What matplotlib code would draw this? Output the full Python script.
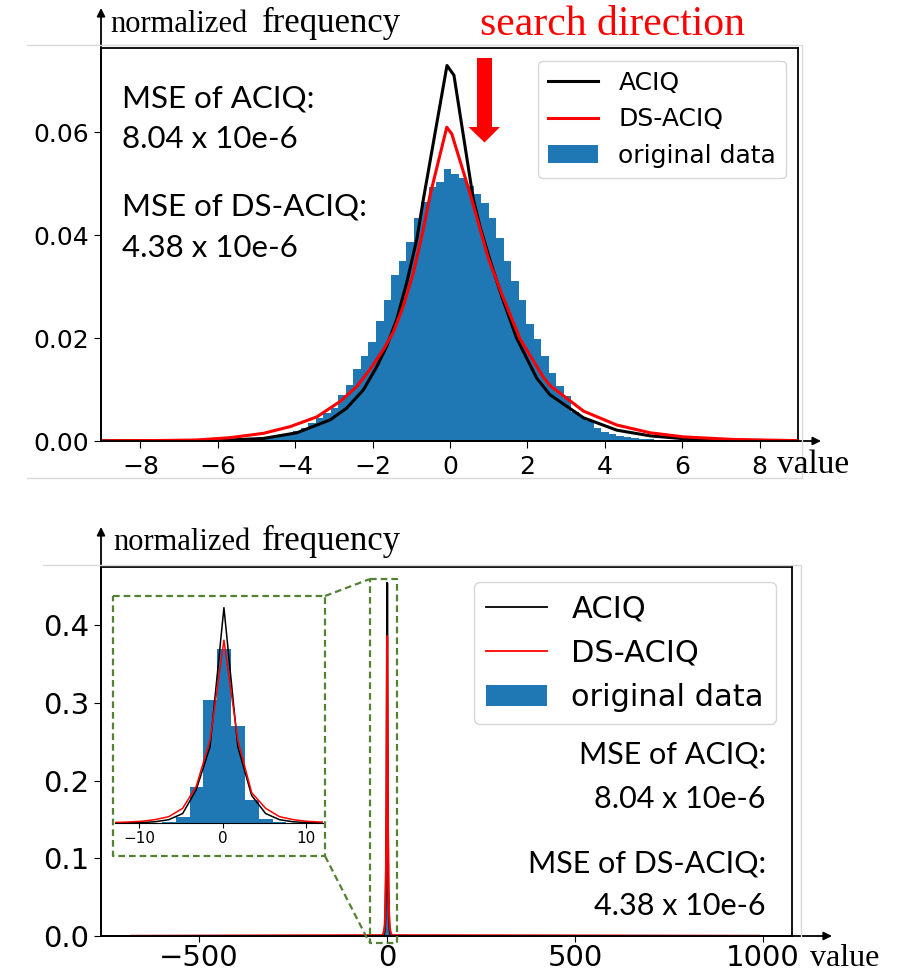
import numpy as np
import matplotlib
matplotlib.use('Agg')
import matplotlib.pyplot as plt
from matplotlib.lines import Line2D
from matplotlib.patches import Polygon, FancyArrowPatch

W, H = 898, 972

# ---- top panel: histogram (bin heights, left to right) ----
top_first_edge = -7.928
top_bin_w = 0.194
top_hist = [0.00001, 0.00002, 0.00002, 0.00003, 0.00003, 0.00004, 0.00005, 0.00006,
            0.00008, 0.0001, 0.00012, 0.00015, 0.0002, 0.00025, 0.0003, 0.0004,
            0.0005, 0.0007, 0.001, 0.0015, 0.002, 0.0026, 0.0035, 0.0044,
            0.0054, 0.0064, 0.009, 0.0109, 0.0139, 0.0165, 0.0192, 0.0233,
            0.0274, 0.0322, 0.035, 0.0387, 0.0433, 0.0465, 0.0493, 0.0503,
            0.0528,
            0.052, 0.0512, 0.0495, 0.048, 0.0463, 0.0433, 0.0394, 0.035, 0.0312, 0.0275,
            0.0228, 0.0198, 0.0166, 0.0133, 0.0107, 0.0088, 0.0057, 0.0047, 0.0038, 0.0025,
            0.0018, 0.0014, 0.001, 0.0007, 0.0005, 0.0004, 0.0003, 0.00025, 0.0002, 0.00015,
            0.00012, 0.0001, 0.00008, 0.00006, 0.00005, 0.00004, 0.00003, 0.00002, 0.00002, 0.00001]

# top panel fitted curves
top_aciq_x = [-9.0, -7.5, -6.03, -4.82, -3.96, -3.10, -2.67, -2.24, -1.89, -1.64, -1.38,
              -1.12, -0.86, -0.69, -0.08, 0.10, 0.60, 0.78, 1.03, 1.34, 1.72, 2.24,
              2.58, 3.45, 4.31, 5.17, 6.03, 7.32, 9.0]
top_aciq_y = [0.00003, 0.00005, 0.0001, 0.0005, 0.0016, 0.0041, 0.0064, 0.00995, 0.0145,
              0.0184, 0.0236, 0.0308, 0.0392, 0.047, 0.073, 0.0711, 0.047, 0.0415, 0.0352,
              0.0280, 0.0200, 0.0122, 0.0090, 0.0045, 0.0021, 0.0010, 0.00045, 0.00015, 0.00003]
top_ds_x = [-9.0, -7.5, -6.55, -5.68, -4.82, -4.13, -3.44, -2.84, -2.41, -2.07, -1.72,
            -1.46, -1.21, -0.95, -0.69, -0.52, -0.085, 0.044, 0.52, 0.99, 1.34,
            1.81, 2.41, 2.58, 3.45, 4.31, 5.17, 6.03, 7.32, 9.0]
top_ds_y = [0.00004, 0.0001, 0.0002, 0.00065, 0.0015, 0.0028, 0.0047, 0.0077, 0.0106,
            0.0139, 0.0178, 0.0213, 0.0262, 0.0327, 0.0412, 0.0477, 0.061, 0.0597, 0.048,
            0.0355, 0.0285, 0.0198, 0.0124, 0.0108, 0.0058, 0.0031, 0.0016, 0.0008,
            0.0003, 0.00007]

# ---- bottom panel ----
bot_first_edge = -8.94
bot_bin_w = 1.656
bot_hist = [0.001, 0.003, 0.0127, 0.076, 0.26, 0.367, 0.205, 0.0486, 0.008, 0.002, 0.0008]

bot_x = [-680, -13.1, -11.45, -9.8, -8.13, -6.46, -4.8, -3.18, -1.52, 0.14, 1.8, 3.46,
         5.13, 6.79, 8.45, 10.1, 11.77, 13.4, 990]
bot_aciq = [0.00005, 0.0002, 0.0004, 0.001, 0.0025, 0.007, 0.020, 0.07, 0.161, 0.4546,
            0.161, 0.058, 0.020, 0.007, 0.0025, 0.001, 0.0004, 0.0002, 0.00005]
bot_ds = [0.0001, 0.001, 0.002, 0.0035, 0.007, 0.0134, 0.031, 0.077, 0.175, 0.386,
          0.175, 0.064, 0.031, 0.0134, 0.007, 0.0035, 0.002, 0.001, 0.0001]

mse_lines = ['MSE of ACIQ:', '8.04 x 10e-6', 'MSE of DS-ACIQ:', '4.38 x 10e-6']
labels = ['ACIQ', 'DS-ACIQ', 'original data']

BLUE = '#1f77b4'
GREEN = '#548235'
GRAY = '#d9d9d9'
SERIF = 'Liberation Serif'
MSEFONT = ['Lato', 'DejaVu Sans']


def fx(x):
    return x / W


def fy(y):
    return 1 - y / H


def box(l, t, r, b):
    return [fx(l), fy(b), (r - l) / W, (b - t) / H]


def fline(xs, ys, **kw):
    fig.add_artist(Line2D([fx(v) for v in xs], [fy(v) for v in ys],
                          transform=fig.transFigure, **kw))


def farrow(x0, y0, x1, y1, ms=12):
    fig.add_artist(FancyArrowPatch((fx(x0), fy(y0)), (fx(x1), fy(y1)),
                                   transform=fig.transFigure, arrowstyle='-|>',
                                   mutation_scale=ms, lw=1.3, color='black',
                                   shrinkA=0, shrinkB=0))


fig = plt.figure(figsize=(W / 100, H / 100), dpi=100)

# ================= top panel =================
ax1 = fig.add_axes(box(101, 48, 798, 441))
edges = top_first_edge + top_bin_w * np.arange(len(top_hist))
ax1.bar(edges, top_hist, width=top_bin_w, align='edge', color=BLUE, linewidth=0,
        label=labels[2], zorder=1)
ax1.plot(top_aciq_x, top_aciq_y, color='black', lw=2.2, label=labels[0], zorder=2)
ax1.plot(top_ds_x, top_ds_y, color='red', lw=2.2, label=labels[1], zorder=3)
ax1.set_xlim(-9.02, 8.99)
ax1.set_ylim(0, 0.0764)
ax1.set_xticks(np.arange(-8, 9, 2))
ax1.set_yticks([0.0, 0.02, 0.04, 0.06])
ax1.set_yticklabels(['0.00', '0.02', '0.04', '0.06'])
ax1.tick_params(labelsize=18, length=5)
ax1.tick_params(axis='x', pad=5)
ax1.legend(loc='upper right', bbox_to_anchor=(0.983, 0.967), borderaxespad=0,
           fontsize=18)
for sp in ax1.spines.values():
    sp.set_linewidth(1.3)

ty = [107, 148, 215, 257]
for s, y in zip(mse_lines, ty):
    fig.text(fx(122), fy(y), s, fontsize=22.5, family=MSEFONT, va='baseline')

fig.text(fx(110), fy(32), 'normalized', fontsize=22, family=SERIF, va='baseline')
fig.text(fx(262), fy(32), 'frequency', fontsize=25, family=SERIF, va='baseline')
fig.text(fx(480), fy(35), 'search direction', fontsize=30, family=SERIF,
         color='red', va='baseline')
fig.text(fx(777), fy(473), 'value', fontsize=24, family=SERIF, va='baseline')

# red arrow (search direction)
arrow_px = [(477, 58), (492, 58), (492, 127), (500, 127), (484.5, 142.5),
            (468.5, 127), (477, 127)]
fig.add_artist(Polygon([(fx(a), fy(b)) for a, b in arrow_px], closed=True,
                       transform=fig.transFigure, facecolor='red', edgecolor='none'))

farrow(101, 441, 821, 441)
farrow(101, 441, 101, 8)

# light frame around top picture
fline([27, 802, 802, 27], [45, 45, 478, 478], color=GRAY, lw=1)

# ================= bottom panel =================
ax2 = fig.add_axes(box(101, 567, 792, 936))
bedges = bot_first_edge + bot_bin_w * np.arange(len(bot_hist))
ax2.bar(bedges, bot_hist, width=bot_bin_w, align='edge', color=BLUE, linewidth=0,
        label=labels[2], zorder=1)
ax2.plot(bot_x, bot_aciq, color='black', lw=1.5, label=labels[0], zorder=2)
ax2.plot(bot_x, bot_ds, color='red', lw=1.5, label=labels[1], zorder=3)
ax2.set_xlim(-761, 1077)
ax2.set_ylim(0, 0.475)
ax2.set_xticks([-500, 0, 500, 1000])
ax2.set_yticks([0.0, 0.1, 0.2, 0.3, 0.4])
ax2.tick_params(labelsize=21, length=5)
ax2.tick_params(axis='x', pad=2, length=4)
leg = ax2.legend(loc='upper right', bbox_to_anchor=(0.977, 0.959), borderaxespad=0,
                 fontsize=22)
for h in leg.get_lines():
    h.set_linewidth(1.3)
for sp in ax2.spines.values():
    sp.set_linewidth(1.3)

by = [764, 808, 872, 915]
for s, y in zip(mse_lines, by):
    fig.text(fx(766), fy(y), s, fontsize=22, family=MSEFONT, va='baseline', ha='right')

fig.text(fx(113), fy(550), 'normalized', fontsize=22, family=SERIF, va='baseline')
fig.text(fx(262), fy(550), 'frequency', fontsize=25, family=SERIF, va='baseline')
fig.text(fx(810), fy(966), 'value', fontsize=23, family=SERIF, va='baseline')

farrow(101, 936, 832, 936)
farrow(101, 936, 101, 527)

fline([43, 801, 801], [565, 565, 936], color=GRAY, lw=1)

# inset zoom of the peak
axi = fig.add_axes(box(115, 598, 323, 823))
axi.bar(bedges, bot_hist, width=bot_bin_w, align='edge', color=BLUE, linewidth=0)
axi.plot(bot_x, bot_aciq, color='black', lw=1.1)
axi.plot(bot_x, bot_ds, color='red', lw=1.1)
axi.set_xlim(-12.9, 12.0)
axi.set_ylim(0, 0.475)
axi.set_xticks([-10, 0, 10])
axi.set_yticks([])
axi.tick_params(labelsize=11, length=3.5, pad=2)
for k in ['top', 'left', 'right']:
    axi.spines[k].set_visible(False)
axi.patch.set_alpha(0)

dash = dict(color=GREEN, lw=1.6, linestyle=(0, (3, 1.8)))
fline([113, 325, 325, 113, 113], [596, 596, 856, 856, 596], **dash)
fline([370, 397, 397, 370, 370], [579, 579, 943, 943, 579], **dash)
fline([325, 370], [596, 579], **dash)
fline([325, 369], [856, 942], **dash)

fig.savefig('out.png', dpi=100)
